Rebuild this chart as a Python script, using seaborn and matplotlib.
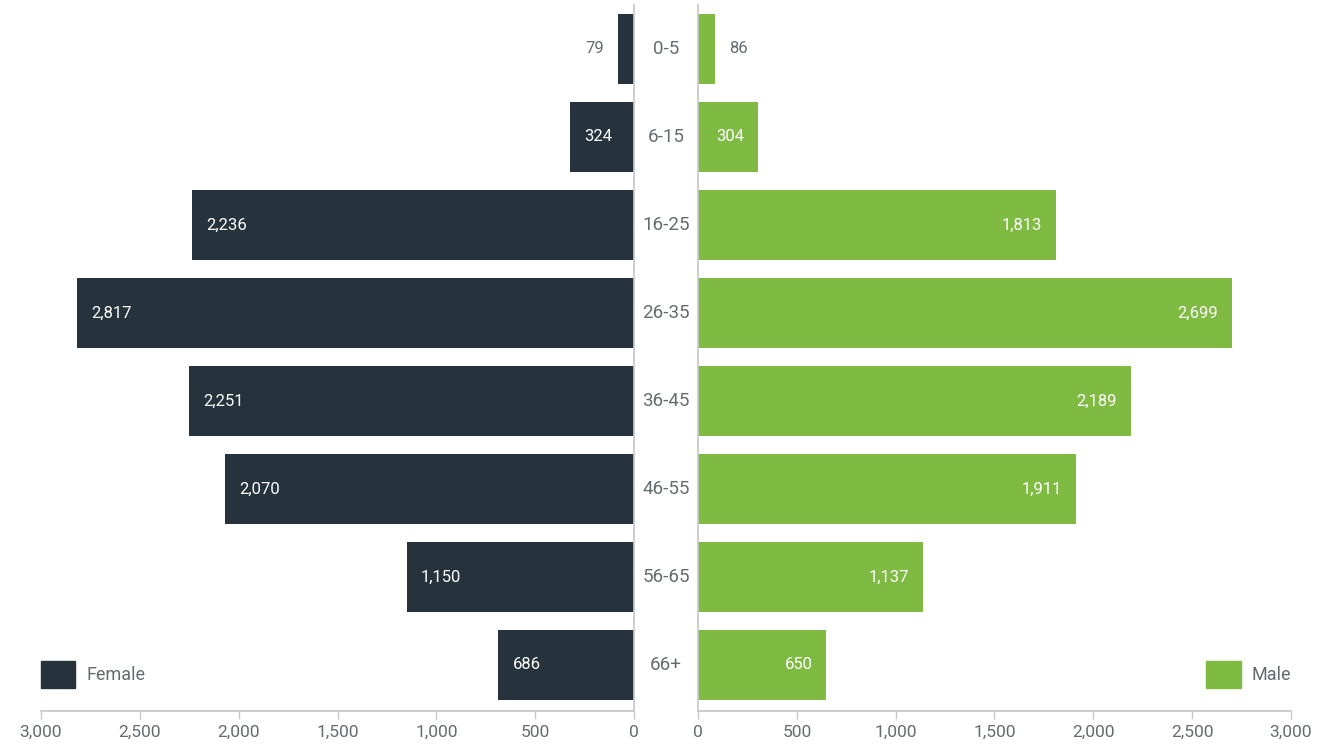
import matplotlib.pyplot as plt
import matplotlib.transforms as mtransforms
from matplotlib.patches import Patch
from matplotlib.ticker import FuncFormatter
import seaborn as sns

# age pyramid data
age_groups = ["0-5", "6-15", "16-25", "26-35", "36-45", "46-55", "56-65", "66+"]
female = [79, 324, 2236, 2817, 2251, 2070, 1150, 686]
male = [86, 304, 1813, 2699, 2189, 1911, 1137, 650]
ticks = [0, 500, 1000, 1500, 2000, 2500, 3000]

DARK = "#26333d"
GREEN = "#7fba42"
GRAY_TXT = "#666b70"
GRAY_LINE = "#c8c8c8"

sns.set_theme(style="white")
plt.rcParams["font.family"] = ["Roboto", "DejaVu Sans"]

W, H = 1319, 745
fig = plt.figure(figsize=(W / 100, H / 100), dpi=100)
bottom, top = 711, 5
ax_f = fig.add_axes([41 / W, (H - bottom) / H, 593 / W, (bottom - top) / H])
ax_m = fig.add_axes([698 / W, (H - bottom) / H, 593 / W, (bottom - top) / H])

sns.barplot(x=female, y=age_groups, orient="h", ax=ax_f, color=DARK,
            saturation=1, width=0.8, linewidth=0)
sns.barplot(x=male, y=age_groups, orient="h", ax=ax_m, color=GREEN,
            saturation=1, width=0.8, linewidth=0)

fmt = FuncFormatter(lambda v, p: f"{int(v):,}")
for ax in (ax_f, ax_m):
    ax.set_ylim(7.523, -0.5)
    ax.set_xticks(ticks)
    ax.xaxis.set_major_formatter(fmt)
    ax.set_ylabel("")
    ax.set_xlabel("")
    ax.set_yticks([])
    ax.tick_params(axis="x", bottom=True, length=6, width=1, color=GRAY_LINE,
                   labelsize=12.5, labelcolor=GRAY_TXT, pad=4)
    ax.spines["top"].set_visible(False)
    ax.spines["bottom"].set_color(GRAY_LINE)
    for s in ("left", "right"):
        ax.spines[s].set_color(GRAY_LINE)

ax_f.set_xlim(3000, 0)
ax_f.spines["left"].set_visible(False)
ax_m.set_xlim(0, 3000)
ax_m.spines["right"].set_visible(False)

# value labels
off = 14 * 3000 / 593
for i, v in enumerate(female):
    if v > 200:
        ax_f.text(v - off, i, f"{v:,}", ha="left", va="center", color="white", fontsize=12)
    else:
        ax_f.text(v + off, i, f"{v:,}", ha="right", va="center", color=GRAY_TXT, fontsize=12)
for i, v in enumerate(male):
    if v > 200:
        ax_m.text(v - off, i, f"{v:,}", ha="right", va="center", color="white", fontsize=12)
    else:
        ax_m.text(v + off, i, f"{v:,}", ha="left", va="center", color=GRAY_TXT, fontsize=12)

# age group labels between the two halves
trans = mtransforms.blended_transform_factory(fig.transFigure, ax_f.transData)
for i, g in enumerate(age_groups):
    fig.text(666 / W, i, g, transform=trans, ha="center", va="center",
             color=GRAY_TXT, fontsize=13.5)

# legends
ax_f.legend(handles=[Patch(color=DARK, label="Female")], loc="lower left",
            bbox_to_anchor=(0, 23 / 706), frameon=False, fontsize=13,
            handlelength=1.9, handleheight=1.9, handletextpad=0.6,
            borderpad=0, borderaxespad=0, labelcolor=GRAY_TXT)
ax_m.legend(handles=[Patch(color=GREEN, label="Male")], loc="lower right",
            bbox_to_anchor=(1, 23 / 706), frameon=False, fontsize=13,
            handlelength=1.9, handleheight=1.9, handletextpad=0.6,
            borderpad=0, borderaxespad=0, labelcolor=GRAY_TXT)

fig.savefig("out.png", dpi=100)
